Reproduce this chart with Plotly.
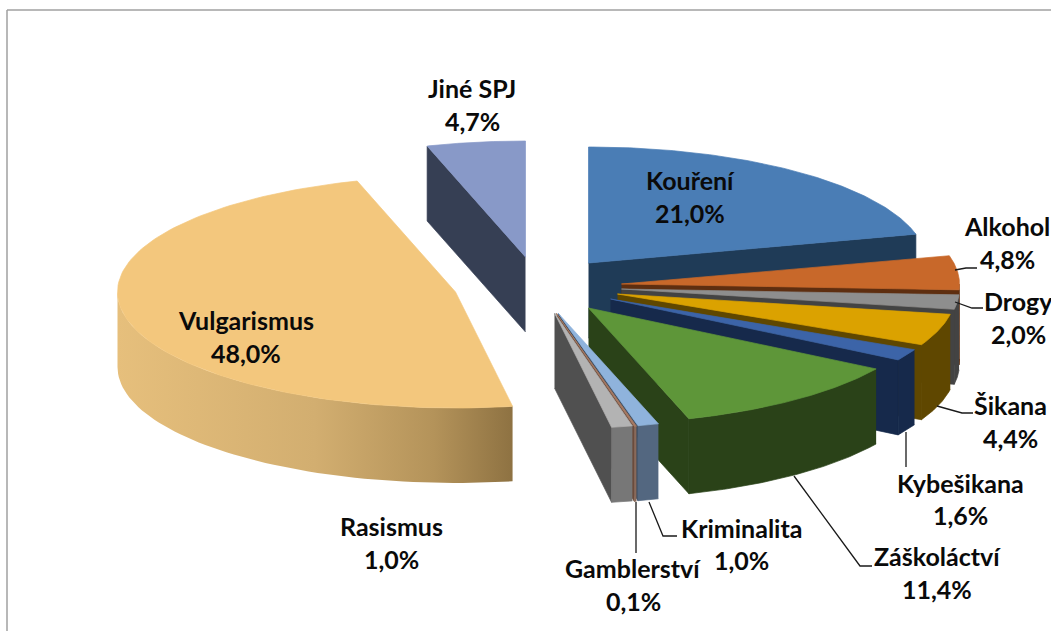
import numpy as np
import plotly.graph_objects as go

# ---- data, clockwise from 12 o'clock ----
categories = ["Kouření", "Alkohol", "Drogy", "Šikana", "Kybešikana", "Záškoláctví",
              "Kriminalita", "Gamblerství", "Rasismus", "Vulgarismus", "Jiné SPJ"]
values = [21.0, 4.8, 2.0, 4.4, 1.6, 11.4, 1.0, 0.1, 1.0, 48.0, 4.7]

# ---- exploded apex of each slice (pixels) ----
apex_x = [588.5, 621.5, 621.5, 617.5, 610.5, 588.5, 558, 556.5, 554.5, 455.5, 525.5]
apex_y = [263, 284, 289, 294, 299, 308, 313, 313.5, 313, 292, 257]

top_colors = ["#4A7DB5", "#C8682A", "#8E8E8E", "#DBA200", "#3C64A8", "#5E9639",
              "#8FB3DC", "#A87A62", "#B3B3B3", "#F3C77D", "#8899C8"]
face_colors = ["#1F3B57", "#5E2E10", "#434343", "#5F4700", "#16294B", "#2A4218",
               "#3A4A5E", "#6A4A3A", "#505050", "#8E7242", "#363F54"]
outer_colors = ["#1F3B57", "#5E2E10", "#434343", "#5F4700", "#16294B", "#2A4218",
                "#536780", "#8A6A5A", "#777777", None, "#363F54"]

# ---- label centres (pixels): name line, value line ----
label_x = [690, 1007, 1018, 1010, 960, 937, 741, 633, 391, 246, 472]
name_y = [180, 226, 301, 405, 483, 556, 528, 568, 526, 320, 88]
value_y = [213, 259, 334, 438, 515, 589, 560, 601, 559, 353, 121]

leaders = [
    [(955, 270), (966, 268), (977, 268)],
    [(955, 302), (972, 308), (983, 308)],
    [(937, 406), (962, 413), (973, 413)],
    [(906, 432), (906, 467)],
    [(794, 476), (860, 566), (872, 566)],
    [(649, 502), (663, 536), (677, 536)],
    [(636, 502), (636, 553)],
]

RX, RY, DEPTH = 338, 116, 75
FONT = dict(family="Lato, Carlito, Calibri, sans-serif", size=25, color="#0A0A0A")


def arc(cx, cy, a0, a1, n=60):
    t = np.radians(np.linspace(a0, a1, n))
    return cx + RX * np.sin(t), cy - RY * np.cos(t)


def poly(fig, xs, ys, color, edge=None, **extra):
    fig.add_trace(go.Scatter(x=list(xs), y=list(ys), mode="lines", fill="toself",
                             fillcolor=color, line=dict(width=0.7 if edge is None else 0,
                                                        color=edge or color),
                             hoverinfo="skip", showlegend=False, **extra))


fig = go.Figure()
cum = np.cumsum([0] + values) * 3.6

for i, name in enumerate(categories):
    a0, a1 = cum[i], cum[i + 1]
    ax, ay = apex_x[i], apex_y[i]

    # start-angle cut face faces the viewer on the left half, end-angle on the right half
    if np.sin(np.radians(a0)) < -1e-6:
        ex, ey = arc(ax, ay, a0, a0, 1)
        poly(fig, [ax, ex[0], ex[0], ax], [ay, ey[0], ey[0] + DEPTH, ay + DEPTH], face_colors[i])
    if np.sin(np.radians(a1)) > 1e-6:
        ex, ey = arc(ax, ay, a1, a1, 1)
        poly(fig, [ax, ex[0], ex[0], ax], [ay, ey[0], ey[0] + DEPTH, ay + DEPTH], face_colors[i])

    # outer wall: visible where the rim is on the near half
    w0, w1 = max(a0, 90), min(a1, 270)
    if w1 > w0:
        wx, wy = arc(ax, ay, w0, w1)
        xs = np.r_[wx, wx[::-1]]
        ys = np.r_[wy, wy[::-1] + DEPTH]
        if outer_colors[i] is None:
            poly(fig, xs, ys, "#E5BE7B", edge="#E5BE7B",
                 fillgradient=dict(type="horizontal", start=float(xs.min()), stop=float(xs.max()),
                                   colorscale=[[0, "#E6BF7C"], [0.5, "#D2AE70"], [0.8, "#B4935A"], [1, "#8E7242"]]))
        else:
            poly(fig, xs, ys, outer_colors[i])

    # top surface
    tx, ty = arc(ax, ay, a0, a1, 120)
    poly(fig, np.r_[ax, tx, ax], np.r_[ay, ty, ay], top_colors[i])

    # labels
    pct = f"{values[i]:.1f}%".replace(".", ",")
    fig.add_annotation(x=label_x[i], y=name_y[i], text=f"<b>{name}</b>", showarrow=False, font=FONT,
                       xanchor="center", yanchor="middle")
    fig.add_annotation(x=label_x[i], y=value_y[i], text=f"<b>{pct}</b>", showarrow=False, font=FONT,
                       xanchor="center", yanchor="middle")

for pts in leaders:
    fig.add_trace(go.Scatter(x=[p[0] for p in pts], y=[p[1] for p in pts], mode="lines",
                             line=dict(color="#1A1A1A", width=1.3), hoverinfo="skip", showlegend=False))

# chart-area frame
fig.add_shape(type="line", x0=7, y0=10, x1=1051, y1=10, line=dict(color="#A0A0A0", width=1.5), layer="below")
fig.add_shape(type="line", x0=7, y0=10, x1=7, y1=631, line=dict(color="#A0A0A0", width=1.5), layer="below")

fig.update_layout(
    width=1051, height=631, margin=dict(l=0, r=0, t=0, b=0),
    paper_bgcolor="white", plot_bgcolor="white", showlegend=False,
    xaxis=dict(range=[0, 1051], visible=False, fixedrange=True),
    yaxis=dict(range=[631, 0], visible=False, fixedrange=True),
)
fig.write_html("out.html", post_script="document.body.style.margin='0';document.body.style.overflow='hidden';",
               config=dict(displayModeBar=False))
